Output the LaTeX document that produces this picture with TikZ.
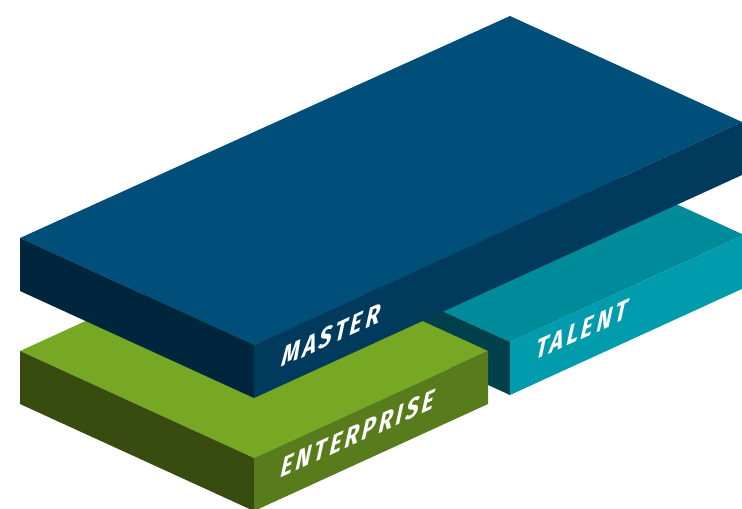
\documentclass[tikz,border=0pt]{standalone}
\usepackage{fontspec}
\usetikzlibrary{calc}
\newfontfamily\slabfont[LetterSpace=14]{Fira Sans}
\definecolor{masterTop}{RGB}{0,78,122}
\definecolor{masterFront}{RGB}{0,58,93}
\definecolor{masterSide}{RGB}{0,38,62}
\definecolor{entTop}{RGB}{118,168,36}
\definecolor{entFront}{RGB}{88,124,28}
\definecolor{entSide}{RGB}{56,76,16}
\definecolor{talTop}{RGB}{0,139,155}
\definecolor{talFront}{RGB}{0,155,172}
\definecolor{talSide}{RGB}{0,64,74}
\newcommand\slabh{53}
\newcommand\slab[7]{
        \fill[#1] (#4) -- (#5) -- (#6) -- (#7) -- cycle;
        \fill[#2] (#4) -- (#5) -- ($(#5)+(0,\slabh)$) -- ($(#4)+(0,\slabh)$) -- cycle;
        \fill[#3] (#5) -- (#6) -- ($(#6)+(0,\slabh)$) -- ($(#5)+(0,\slabh)$) -- cycle;
}
\tikzset{slablabel/.style={anchor=base west, inner sep=0pt, text=white,
    font=\slabfont\bfseries\fontsize{17}{17}\selectfont,
    transform shape, cm={0.76,0.347,0.22,1,(0,0)}}}

\begin{document}
\begin{tikzpicture}[x=0.02cm,y=-0.02cm]
    \useasboundingbox (0,0) rectangle (742,508);

    %corners of the three slabs (left, front, right, back):
    \coordinate (talL) at (276,235);
    \coordinate (talF) at (510,342);
    \coordinate (talR) at (744,235);
    \coordinate (talB) at (510,128);

    \coordinate (entL) at (20,351);
    \coordinate (entF) at (254,458);
    \coordinate (entR) at (488,351);
    \coordinate (entB) at (254,244);

    \coordinate (mstL) at (20,238);
    \coordinate (mstF) at (254,345);
    \coordinate (mstR) at (742,122);
    \coordinate (mstB) at (510,16);

    %back to front:
    \slab{talTop}{talSide}{talFront}{talL}{talF}{talR}{talB};
    \slab{entTop}{entSide}{entFront}{entL}{entF}{entR}{entB};
    \slab{masterTop}{masterSide}{masterFront}{mstL}{mstF}{mstR}{mstB};

    \node[slablabel] (master) at (280,368) {MASTER};
    \node[slablabel] (talent) at (534,361) {TALENT};
    \node[slablabel] (enterprise) at (279,479) {ENTERPRISE};

\end{tikzpicture}
\end{document}
